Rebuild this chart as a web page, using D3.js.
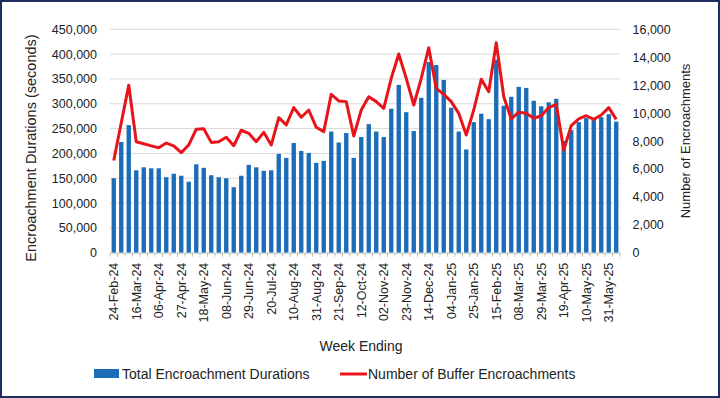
<!DOCTYPE html>
<html><head><meta charset="utf-8">
<script src="https://cdn.jsdelivr.net/npm/d3@7"></script>
<style>
html,body{margin:0;padding:0;background:#fff;}
svg{display:block;font-family:"Liberation Sans",Arial,sans-serif;}
</style></head>
<body>
<svg id="chart" width="720" height="398"></svg>
<script>
const weeks = ["24-Feb-24","02-Mar-24","09-Mar-24","16-Mar-24","23-Mar-24","30-Mar-24","06-Apr-24","13-Apr-24","20-Apr-24","27-Apr-24",
"04-May-24","11-May-24","18-May-24","25-May-24","01-Jun-24","08-Jun-24","15-Jun-24","22-Jun-24","29-Jun-24","06-Jul-24",
"13-Jul-24","20-Jul-24","27-Jul-24","03-Aug-24","10-Aug-24","17-Aug-24","24-Aug-24","31-Aug-24","07-Sep-24","14-Sep-24",
"21-Sep-24","28-Sep-24","05-Oct-24","12-Oct-24","19-Oct-24","26-Oct-24","02-Nov-24","09-Nov-24","16-Nov-24","23-Nov-24",
"30-Nov-24","07-Dec-24","14-Dec-24","21-Dec-24","28-Dec-24","04-Jan-25","11-Jan-25","18-Jan-25","25-Jan-25","01-Feb-25",
"08-Feb-25","15-Feb-25","22-Feb-25","01-Mar-25","08-Mar-25","15-Mar-25","22-Mar-25","29-Mar-25","05-Apr-25","12-Apr-25",
"19-Apr-25","26-Apr-25","03-May-25","10-May-25","17-May-25","24-May-25","31-May-25","07-Jun-25"];

const durations = [150000,223000,257000,166000,172000,170000,170000,152000,159000,155000,
143000,178000,171000,156000,152000,150000,132000,155000,177000,172000,
165000,166000,199000,191000,221000,205000,201000,181000,185000,244000,
222000,241000,191000,233000,259000,244000,233000,290000,338000,283000,
245000,312000,384000,378000,348000,292000,244000,208000,263000,280000,
269000,389000,296000,314000,334000,332000,306000,295000,303000,310000,
225000,247000,263000,271000,267000,273000,279000,264000];

const counts = [6600,9300,12000,7950,7800,7650,7520,7850,7650,7160,
7720,8840,8880,7900,7950,8270,7660,8770,8550,7950,
8620,7710,9670,9150,10390,9700,10220,8980,8670,11340,
10870,10820,8360,10220,11170,10820,10340,12490,14230,12490,
10580,12490,14680,11770,11340,10820,9980,8430,10220,12420,
11530,15040,11170,9580,10060,9980,9630,9810,10390,10630,
7360,9100,9580,9810,9550,9860,10390,9550];

const xTickLabels = ["24-Feb-24","16-Mar-24","06-Apr-24","27-Apr-24","18-May-24","08-Jun-24","29-Jun-24","20-Jul-24",
"10-Aug-24","31-Aug-24","21-Sep-24","12-Oct-24","02-Nov-24","23-Nov-24","14-Dec-24","04-Jan-25","25-Jan-25",
"15-Feb-25","08-Mar-25","29-Mar-25","19-Apr-25","10-May-25","31-May-25"];
const leftTicks = [0,50000,100000,150000,200000,250000,300000,350000,400000,450000];
const rightTicks = [0,2000,4000,6000,8000,10000,12000,14000,16000];

const seriesNames = ["Total Encroachment Durations","Number of Buffer Encroachments"];

const svg = d3.select("#chart");
const W = 720, H = 398;
const plot = {l:110, r:620, t:29.3, b:252.7};
const barColor = "#1b6db9", lineColor = "#e8141b";

svg.append("rect").attr("x",1).attr("y",1).attr("width",W-2).attr("height",H-2)
  .attr("fill","#fff").attr("stroke","#1f2c5e").attr("stroke-width",2);

const x = d3.scaleBand().domain(weeks).range([plot.l, plot.r]).paddingInner(0.42).paddingOuter(0.21);
const yL = d3.scaleLinear().domain([0,450000]).range([plot.b, plot.t]);
const yR = d3.scaleLinear().domain([0,16000]).range([plot.b, plot.t]);

// gridlines
svg.append("g").selectAll("line").data(leftTicks.slice(1)).join("line")
  .attr("x1",plot.l).attr("x2",plot.r).attr("y1",d=>yL(d)).attr("y2",d=>yL(d))
  .attr("stroke","#d9d9d9").attr("stroke-width",1);

// left axis
const fmt = d3.format(",");
const gL = svg.append("g").attr("transform",`translate(${plot.l},0)`)
  .call(d3.axisLeft(yL).tickValues(leftTicks).tickFormat(fmt).tickSize(0).tickPadding(13));
gL.select(".domain").remove();
gL.selectAll("text").attr("font-size","12.5px").attr("fill","#222").attr("font-family","Liberation Sans, Arial, sans-serif");

// right axis
const gR = svg.append("g").attr("transform",`translate(${plot.r},0)`)
  .call(d3.axisRight(yR).tickValues(rightTicks).tickFormat(fmt).tickSize(0).tickPadding(12.5));
gR.select(".domain").remove();
gR.selectAll("text").attr("font-size","12.5px").attr("fill","#222").attr("font-family","Liberation Sans, Arial, sans-serif");

// bars
svg.append("g").selectAll("rect").data(weeks).join("rect")
  .attr("x",d=>x(d)).attr("width",x.bandwidth())
  .attr("y",(d,i)=>yL(durations[i])).attr("height",(d,i)=>yL(0)-yL(durations[i]))
  .attr("fill",barColor);

// x axis
const gX = svg.append("g").attr("transform",`translate(0,${plot.b})`)
  .call(d3.axisBottom(x).tickValues(xTickLabels).tickSize(0).tickPadding(0));
gX.select(".domain").attr("stroke","#bfbfbf").attr("stroke-width",1);
gX.selectAll("text").attr("font-size","12.5px").attr("fill","#222")
  .attr("font-family","Liberation Sans, Arial, sans-serif")
  .attr("text-anchor","end").attr("dy","0.35em").attr("dx","0")
  .attr("transform","translate(0,10) rotate(-90)").attr("x",0).attr("y",0);
// category tick marks between bars
const step = x.step();
svg.append("g").selectAll("line").data(weeks.concat(["_end"])).join("line")
  .attr("x1",(d,i)=>plot.l + i*step).attr("x2",(d,i)=>plot.l + i*step)
  .attr("y1",plot.b).attr("y2",plot.b+4)
  .attr("stroke","#bfbfbf").attr("stroke-width",1);

// line
const line = d3.line().x((d,i)=>x(weeks[i])+x.bandwidth()/2).y(d=>yR(d));
svg.append("path").datum(counts).attr("d",line)
  .attr("fill","none").attr("stroke",lineColor).attr("stroke-width",3).attr("stroke-linejoin","round");

// axis titles
svg.append("text").attr("transform","translate(36,148) rotate(-90)").attr("text-anchor","middle")
  .attr("font-size","14.5px").attr("fill","#222").text("Encroachment Durations (seconds)");
svg.append("text").attr("transform","translate(690,141) rotate(-90)").attr("text-anchor","middle")
  .attr("font-size","13px").attr("fill","#222").text("Number of Encroachments");
svg.append("text").attr("x",361).attr("y",351).attr("text-anchor","middle")
  .attr("font-size","14px").attr("fill","#222").text("Week Ending");

// legend
const lg = svg.append("g");
lg.append("rect").attr("x",94).attr("y",369).attr("width",25).attr("height",9).attr("fill",barColor);
lg.append("text").attr("x",122).attr("y",379).attr("font-size","14px").attr("fill","#222").text(seriesNames[0]);
lg.append("line").attr("x1",340).attr("x2",367).attr("y1",374).attr("y2",374)
  .attr("stroke",lineColor).attr("stroke-width",3);
lg.append("text").attr("x",368).attr("y",379).attr("font-size","14px").attr("fill","#222").text(seriesNames[1]);
</script>
</body></html>
